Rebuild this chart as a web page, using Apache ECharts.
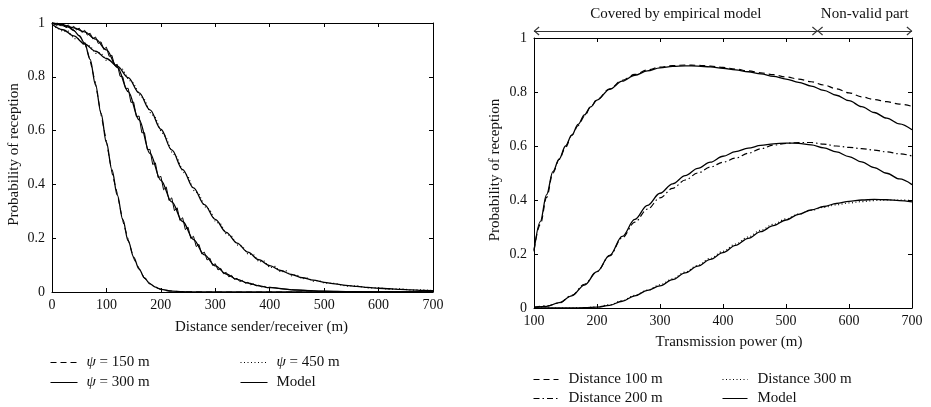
<!DOCTYPE html>
<html><head><meta charset="utf-8">
<script src="https://cdn.jsdelivr.net/npm/echarts@6/dist/echarts.min.js"></script>
<style>html,body{margin:0;padding:0;background:#fff}#c{width:931px;height:407px}</style>
</head><body><div id="c"></div>
<script>
// ---------- Left panel: probability vs distance ----------
const leftTicksX = [0, 100, 200, 300, 400, 500, 600, 700];
const psi150X = [0,10,20,30,40,50,60,70,80,90,100,110,120,130,140,150,160,170,180,190,200,210,220,230,240,260,280,300,400,500,600,700];
const psi150Y = [1.0,0.99,0.99,0.98,0.975,0.95,0.93,0.86,0.775,0.66,0.56,0.445,0.365,0.265,0.195,0.125,0.088,0.05,0.032,0.016,0.011,0.005,0.004,0.002,0.001,0.001,0,0,0,0,0,0];
const psi300X = [0,5,10,15,20,25,30,35,40,45,50,55,60,65,70,75,80,85,90,95,100,105,110,115,120,125,130,135,140,145,150,155,160,165,170,175,180,185,190,195,200,205,210,215,220,225,230,235,240,245,250,255,260,265,270,275,280,285,290,295,300,305,310,315,320,325,330,335,340,345,350,355,360,365,370,375,380,385,390,395,400,420,440,460,480,500,550,600,650,700];
const psi300Y = [1.0,0.996,1.0,0.99,0.997,0.986,0.993,0.98,0.988,0.974,0.981,0.965,0.973,0.955,0.962,0.941,0.948,0.924,0.93,0.902,0.91,0.876,0.88,0.843,0.846,0.802,0.8,0.757,0.757,0.705,0.706,0.652,0.654,0.592,0.592,0.53,0.53,0.474,0.48,0.425,0.43,0.38,0.39,0.34,0.35,0.302,0.313,0.266,0.276,0.232,0.241,0.199,0.207,0.169,0.177,0.142,0.148,0.119,0.126,0.099,0.105,0.082,0.088,0.068,0.073,0.056,0.062,0.047,0.051,0.039,0.043,0.033,0.036,0.027,0.03,0.023,0.025,0.019,0.021,0.016,0.018,0.012,0.009,0.007,0.004,0.003,0.001,0,0,0];
const psi450X = [0,10,20,30,40,50,60,70,80,90,100,110,120,130,140,150,160,170,180,190,200,210,220,230,240,250,260,270,280,290,300,310,320,330,340,350,360,370,380,390,400,410,420,430,440,450,460,470,480,490,500,520,540,560,580,600,620,640,660,680,700];
const psi450Y = [0.99,0.982,0.968,0.97,0.942,0.94,0.915,0.915,0.887,0.889,0.86,0.862,0.833,0.828,0.79,0.776,0.735,0.715,0.668,0.648,0.598,0.574,0.52,0.5,0.448,0.43,0.378,0.365,0.318,0.306,0.262,0.253,0.215,0.208,0.175,0.17,0.14,0.14,0.112,0.115,0.09,0.095,0.074,0.079,0.06,0.064,0.049,0.052,0.04,0.043,0.033,0.032,0.022,0.023,0.015,0.016,0.01,0.012,0.007,0.008,0.005];
const model150X = [0,10,20,30,40,50,60,70,80,90,100,110,120,130,140,150,160,170,180,190,200,220,240,260,300,400,500,600,700];
const model150Y = [1.0,0.998,0.993,0.985,0.972,0.953,0.925,0.865,0.77,0.665,0.555,0.455,0.36,0.27,0.19,0.13,0.085,0.052,0.03,0.018,0.01,0.003,0.001,0,0,0,0,0,0];
const model300X = [0,20,40,60,80,100,120,140,160,180,200,220,240,260,280,300,320,340,360,380,400,450,500,550,600,700];
const model300Y = [1.0,0.993,0.982,0.967,0.94,0.9,0.835,0.745,0.64,0.515,0.415,0.335,0.262,0.195,0.138,0.097,0.067,0.047,0.033,0.023,0.016,0.007,0.003,0.001,0,0];
const model450X = [0,20,40,60,80,100,120,140,160,180,200,220,240,260,280,300,320,340,360,380,400,420,440,460,480,500,520,540,560,580,600,620,640,660,680,700];
const model450Y = [0.995,0.975,0.952,0.922,0.895,0.868,0.84,0.797,0.74,0.677,0.605,0.528,0.455,0.387,0.325,0.27,0.222,0.182,0.148,0.12,0.098,0.08,0.065,0.053,0.044,0.036,0.03,0.025,0.021,0.017,0.014,0.012,0.01,0.008,0.006,0.005];

// ---------- Right panel: probability vs transmission power ----------
const d100X = [100,110,120,130,140,150,160,170,180,190,200,220,240,260,280,300,320,340,360,380,400,420,440,460,480,500,520,540,560,580,600,620,640,660,680,700];
const d100Y = [0.215,0.31,0.41,0.5,0.55,0.595,0.64,0.675,0.71,0.745,0.772,0.812,0.843,0.865,0.882,0.892,0.898,0.9,0.899,0.896,0.891,0.885,0.878,0.871,0.864,0.856,0.848,0.838,0.826,0.812,0.797,0.782,0.772,0.764,0.755,0.747];
const m100Y = [0.21,0.32,0.42,0.505,0.552,0.6,0.64,0.68,0.715,0.745,0.77,0.81,0.84,0.862,0.878,0.889,0.895,0.897,0.896,0.893,0.888,0.882,0.875,0.867,0.858,0.848,0.836,0.822,0.806,0.788,0.768,0.746,0.724,0.703,0.682,0.66];
const rightX = [100,120,140,160,180,200,220,240,260,280,300,320,340,360,380,400,420,440,460,480,500,520,540,560,580,600,620,640,660,680,700];
const d200Y = [0.003,0.008,0.018,0.047,0.088,0.135,0.193,0.26,0.318,0.366,0.408,0.443,0.474,0.5,0.522,0.54,0.555,0.573,0.59,0.603,0.61,0.613,0.613,0.607,0.6,0.595,0.59,0.585,0.578,0.571,0.563];
const m200Y = [0.002,0.006,0.02,0.045,0.085,0.135,0.195,0.265,0.328,0.38,0.425,0.46,0.49,0.517,0.54,0.562,0.579,0.592,0.602,0.608,0.611,0.61,0.604,0.593,0.578,0.561,0.541,0.52,0.499,0.478,0.457];
const d300Y = [0,0,0,0,0.001,0.004,0.012,0.027,0.047,0.066,0.086,0.108,0.133,0.158,0.184,0.21,0.237,0.263,0.288,0.31,0.33,0.348,0.362,0.373,0.382,0.389,0.394,0.398,0.4,0.4,0.398];
const m300Y = [0,0,0,0,0.001,0.003,0.01,0.025,0.045,0.065,0.082,0.105,0.13,0.155,0.18,0.205,0.232,0.258,0.283,0.305,0.326,0.347,0.363,0.376,0.387,0.395,0.4,0.402,0.401,0.398,0.393];

// Range annotations above right panel
const rangeBounds = [100, 550, 700];
const rangeNames = ['Covered by empirical model', 'Non-valid part'];

const FONT = 'Liberation Serif';
const TXT = '#111';
const zip = (xs, ys) => xs.map((x, i) => [x, ys[i]]);

function xAx(grid, min, max, pos, labels, name, nameGap, namePad) {
  return {
    type: 'value', gridIndex: grid, min: min, max: max, interval: 100, position: pos,
    axisLine: { show: true, onZero: false, lineStyle: { color: '#000', width: 1 } },
    axisTick: { show: true, inside: true, length: 4, lineStyle: { color: '#000' } },
    axisLabel: { show: labels, margin: 6, fontFamily: FONT, fontSize: 14, color: TXT },
    splitLine: { show: false },
    name: name || '', nameLocation: 'middle', nameGap: nameGap || 0,
    nameTextStyle: { fontFamily: FONT, fontSize: 15, color: TXT, padding: namePad || 0 }
  };
}
function yAx(grid, pos, labels, name, nameGap) {
  return {
    type: 'value', gridIndex: grid, min: 0, max: 1, interval: 0.2, position: pos,
    axisLine: { show: true, onZero: false, lineStyle: { color: '#000', width: 1 } },
    axisTick: { show: true, inside: true, length: 4, lineStyle: { color: '#000' } },
    axisLabel: { show: labels, margin: 7, fontFamily: FONT, fontSize: 14, color: TXT },
    splitLine: { show: false },
    name: name || '', nameLocation: 'middle', nameGap: nameGap || 0,
    nameTextStyle: { fontFamily: FONT, fontSize: 15, color: TXT, padding: [0, 0, 0, 6] }
  };
}

function lineSeries(name, data, xi, yi, type, width, smooth, z) {
  return {
    name: name, type: 'line', data: data, xAxisIndex: xi, yAxisIndex: yi,
    symbol: 'none', showSymbol: false, smooth: smooth ? 0.35 : false,
    smoothMonotone: smooth ? 'x' : undefined,
    lineStyle: { color: '#000', width: width, type: type },
    itemStyle: { color: '#000' }, z: z || 2, animation: false
  };
}

const DASH = [6, 4], DOT = [1, 2.5], DASHDOT = [6, 3, 1.5, 3];
const chevron = 'path://M5,-5 M0,5 L5,0 L10,5 L9,5.8 L5,1.6 L1,5.8 Z';

const legendBase = (data, left, top, gap, iw, pad) => ({
  data: data, left: left, top: top, orient: 'vertical', itemGap: gap, padding: 0,
  itemWidth: iw, itemHeight: 14, selectedMode: false,
  itemStyle: { opacity: 0, borderWidth: 0 },
  lineStyle: { width: 1 },
  formatter: n => n.indexOf('ψ') === 0 ? '{i|ψ}' + n.slice(1) : n,
  textStyle: { fontFamily: FONT, fontSize: 15, color: TXT, padding: [0, 0, 0, pad],
    rich: { i: { fontFamily: FONT, fontSize: 15, fontStyle: 'italic', color: TXT } } }
});

const chart = echarts.init(document.getElementById('c'));
chart.setOption({
  animation: false,
  backgroundColor: '#fff',
  grid: [
    { left: 52, top: 23, width: 381, height: 269 },
    { left: 534, top: 38, width: 378, height: 270 },
    { left: 534, top: 25, width: 378, height: 12 }
  ],
  xAxis: [
    Object.assign(xAx(0, 0, 700, 'bottom', true, 'Distance sender/receiver (m)', 28, [0, 0, 0, 38]), { data: leftTicksX }),
    xAx(0, 0, 700, 'top', false),
    xAx(1, 100, 700, 'bottom', true, 'Transmission power (m)', 27, [0, 0, 0, 12]),
    xAx(1, 100, 700, 'top', false),
    { type: 'value', gridIndex: 2, min: 100, max: 700, show: false }
  ],
  yAxis: [
    yAx(0, 'left', true, 'Probability of reception', 30),
    yAx(0, 'right', false),
    yAx(1, 'left', true, 'Probability of reception', 31),
    yAx(1, 'right', false),
    { type: 'value', gridIndex: 2, min: 0, max: 1, show: false }
  ],
  legend: [
    legendBase(['ψ = 150 m', 'ψ = 300 m'], 50, 355, 5, 27, 4),
    legendBase(['ψ = 450 m', 'Model'], 240, 355, 5, 27, 4),
    legendBase(['Distance 100 m', 'Distance 200 m'], 533, 372, 4, 25, 5),
    legendBase(['Distance 300 m', 'Model'], 722, 372, 4, 25, 5)
  ],
  series: [
    lineSeries('Model', zip(model150X, model150Y), 0, 0, 'solid', 1.3, true, 5),
    lineSeries('ψ = 150 m', zip(psi150X, psi150Y), 0, 0, DASH, 1, false, 2),
    lineSeries('ψ = 300 m', zip(psi300X, psi300Y), 0, 0, 'solid', 1, false, 2),
    lineSeries('ψ = 450 m', zip(psi450X, psi450Y), 0, 0, DOT, 1.2, false, 2),
    lineSeries('Model', zip(model300X, model300Y), 0, 0, 'solid', 1.3, true, 5),
    lineSeries('Model', zip(model450X, model450Y), 0, 0, 'solid', 1.3, true, 5),

    lineSeries('Distance 100 m', zip(d100X, d100Y), 2, 2, DASH, 1.2, true, 2),
    lineSeries('Distance 200 m', zip(rightX, d200Y), 2, 2, DASHDOT, 1.2, true, 2),
    lineSeries('Distance 300 m', zip(rightX, d300Y), 2, 2, DOT, 1.2, true, 2),
    lineSeries('Model', zip(d100X, m100Y), 2, 2, 'solid', 1.3, true, 5),
    lineSeries('Model', zip(rightX, m200Y), 2, 2, 'solid', 1.3, true, 5),
    lineSeries('Model', zip(rightX, m300Y), 2, 2, 'solid', 1.3, true, 5),
    {
      name: 'ranges', type: 'line', xAxisIndex: 4, yAxisIndex: 4, data: [],
      markLine: {
        silent: true, animation: false,
        symbol: [chevron, chevron], symbolSize: [9, 11],
        lineStyle: { color: '#333', width: 1.2, type: 'solid' },
        label: { show: true, position: 'insideMiddleTop', distance: 9, formatter: '{b}',
          fontFamily: FONT, fontSize: 15, color: TXT },
        data: rangeNames.map((n, i) => [
          { name: n, coord: [rangeBounds[i], 0.5] },
          { coord: [rangeBounds[i + 1], 0.5] }
        ])
      }
    }
  ]
});
</script></body></html>
